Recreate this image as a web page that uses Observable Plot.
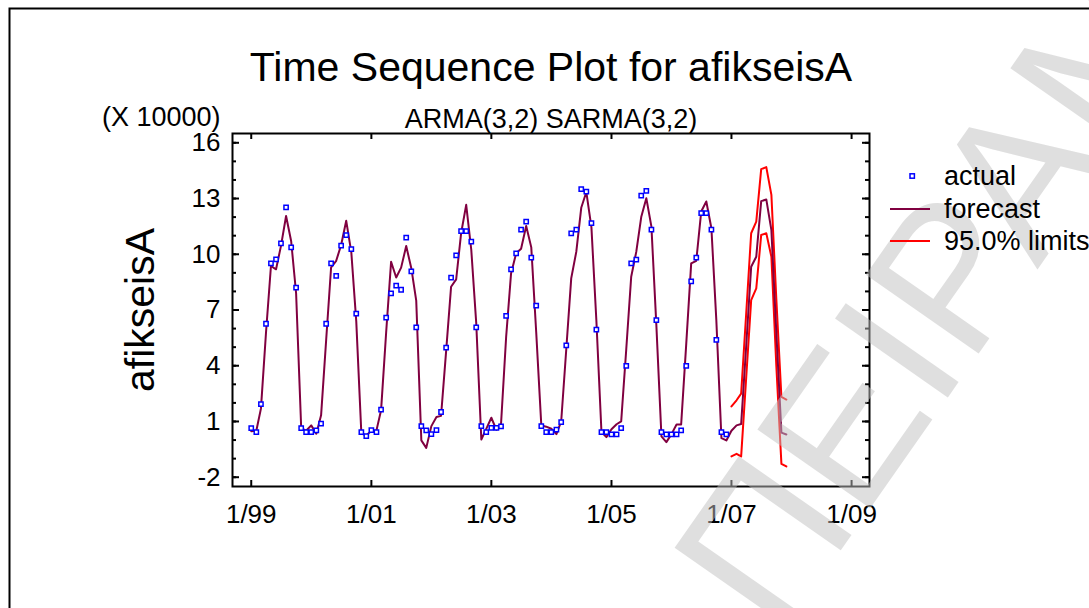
<!DOCTYPE html>
<html>
<head>
<meta charset="utf-8">
<script src="https://cdn.jsdelivr.net/npm/d3@7"></script>
<script src="https://cdn.jsdelivr.net/npm/@observablehq/plot@0.6"></script>
<style>
  html, body { margin: 0; padding: 0; background: #fff; }
  #chart { width: 1089px; height: 608px; overflow: hidden; }
</style>
</head>
<body>
<div id="chart"></div>
<script>
// Monthly arrivals (x 10000), January 1999 – December 2006
const actual1999 = [0.64, 0.43, 1.93, 6.26, 9.51, 9.73, 10.59, 12.52, 10.37, 8.2, 0.64, 0.43];
const actual2000 = [0.43, 0.52, 0.88, 6.26, 9.51, 8.84, 10.46, 11.03, 10.27, 6.81, 0.43, 0.21];
const actual2001 = [0.54, 0.43, 1.64, 6.59, 7.89, 8.31, 8.09, 10.9, 9.08, 6.06, 0.75, 0.52];
const actual2002 = [0.32, 0.53, 1.51, 4.97, 8.74, 9.94, 11.24, 11.24, 10.68, 6.06, 0.75, 0.43];
const actual2003 = [0.66, 0.66, 0.74, 6.69, 9.19, 10.05, 11.33, 11.76, 9.82, 7.23, 0.75, 0.43];
const actual2004 = [0.43, 0.56, 0.97, 5.09, 11.13, 11.33, 13.5, 13.37, 11.67, 5.95, 0.43, 0.43];
const actual2005 = [0.3, 0.3, 0.64, 3.99, 9.51, 9.71, 13.16, 13.41, 11.33, 6.45, 0.43, 0.3];
const actual2006 = [0.3, 0.3, 0.52, 3.99, 8.54, 9.82, 12.21, 12.21, 11.33, 5.39, 0.43, 0.3];

// ARMA(3,2) SARMA(3,2) one-step fits, January 1999 – December 2007
const forecast1999 = [0.48, 0.5, 1.69, 5.8, 9.37, 9.19, 10.45, 12.06, 10.7, 7.9, 0.65, 0.5];
const forecast2000 = [0.79, 0.34, 1.33, 5.4, 9.3, 9.65, 10.5, 11.8, 10.1, 6.4, 0.35, 0.25];
const forecast2001 = [0.5, 0.52, 1.6, 5.8, 9.6, 8.75, 9.28, 10.44, 9.25, 7.5, -0.02, -0.42];
const forecast2002 = [0.75, 1.24, 1.3, 4.8, 8.25, 8.65, 11.13, 12.66, 10.23, 6.3, 0.03, 0.6];
const forecast2003 = [1.2, 0.55, 0.88, 5.55, 8.97, 10.05, 10.3, 11.52, 10.37, 5.8, 0.79, 0.72];
const forecast2004 = [0.61, 0.32, 1.0, 4.9, 8.7, 10.14, 12.5, 13.35, 11.45, 6.45, 0.43, 0.16];
const forecast2005 = [0.58, 0.85, 1.0, 4.9, 8.79, 10.14, 12.0, 13.02, 11.49, 6.2, 0.2, -0.11];
const forecast2006 = [0.32, 0.84, 0.84, 5.19, 9.51, 9.65, 12.3, 12.84, 11.4, 6.45, 0.1, -0.02];
const forecast2007 = [0.5, 0.79, 0.86, 5.1, 9.33, 9.87, 12.86, 12.95, 11.3, 5.8, 0.4, 0.3];

// 95% forecast limits for 2007
const upper2007 = [1.81, 2.14, 2.5, 6.85, 11.13, 11.76, 14.58, 14.69, 13.2, 7.6, 2.32, 2.18];
const lower2007 = [-0.88, -0.74, -0.88, 3.4, 7.53, 8.16, 11.04, 11.13, 9.87, 4.0, -1.28, -1.42];

// Axis ticks
const yTickValues = [-2, 1, 4, 7, 10, 13, 16];
const yMinorValues = [-2, -1, 0, 1, 2, 3, 4, 5, 6, 7, 8, 9, 10, 11, 12, 13, 14, 15, 16];
const xTickYears = [1999, 2001, 2003, 2005, 2007, 2009];

const legendLabels = ["actual", "forecast", "95.0% limits"];

const firstYear = 1999;
const monthDate = (i) => new Date(Date.UTC(firstYear, i, 1));
const toSeries = (values, offset = 0) => values.map((v, i) => ({date: monthDate(offset + i), value: v}));

const actualData = toSeries([].concat(actual1999, actual2000, actual2001, actual2002,
  actual2003, actual2004, actual2005, actual2006));
const forecastData = toSeries([].concat(forecast1999, forecast2000, forecast2001, forecast2002,
  forecast2003, forecast2004, forecast2005, forecast2006, forecast2007));
const upperData = toSeries(upper2007, 96);
const lowerData = toSeries(lower2007, 96);
const xTickDates = xTickYears.map((y) => new Date(Date.UTC(y, 0, 1)));

const W = 1089, H = 608;
const mL = 232, mT = 133, mR = W - 869, mB = H - 486;
const frameW = W - mL - mR, frameH = H - mT - mB;
const FONT = "'Liberation Sans', Arial, Helvetica, sans-serif";
const ACTUAL_COLOR = "#0000ff", FORECAST_COLOR = "#800040", LIMIT_COLOR = "#ff0000";

const plot = Plot.plot({
  width: W,
  height: H,
  marginLeft: mL, marginRight: mR, marginTop: mT, marginBottom: mB,
  style: {fontFamily: FONT, fontSize: "26px", color: "#000", background: "#fff", overflow: "visible"},
  x: {type: "utc", domain: [new Date(Date.UTC(1998, 8, 9)), new Date(Date.UTC(2009, 3, 20))]},
  y: {domain: [-2.5, 16.5]},
  marks: [
    Plot.line(upperData, {x: "date", y: "value", stroke: LIMIT_COLOR, strokeWidth: 2}),
    Plot.line(lowerData, {x: "date", y: "value", stroke: LIMIT_COLOR, strokeWidth: 2}),
    Plot.line(forecastData, {x: "date", y: "value", stroke: FORECAST_COLOR, strokeWidth: 2}),
    Plot.dot(actualData, {x: "date", y: "value", symbol: "square", r: 2.4,
      stroke: ACTUAL_COLOR, strokeWidth: 1.5, fill: "white"}),
    Plot.frame({stroke: "#000", strokeWidth: 2}),
    // inward ticks on all four sides
    Plot.tickY(yMinorValues, {y: (d) => d, stroke: "#000", strokeWidth: 2, insetRight: frameW - 4}),
    Plot.tickY(yTickValues, {y: (d) => d, stroke: "#000", strokeWidth: 2, insetRight: frameW - 7}),
    Plot.tickY(yMinorValues, {y: (d) => d, stroke: "#000", strokeWidth: 2, insetLeft: frameW - 4}),
    Plot.tickY(yTickValues, {y: (d) => d, stroke: "#000", strokeWidth: 2, insetLeft: frameW - 7}),
    Plot.tickX(xTickDates, {x: (d) => d, stroke: "#000", strokeWidth: 2, insetTop: frameH - 6}),
    Plot.tickX(xTickDates, {x: (d) => d, stroke: "#000", strokeWidth: 2, insetBottom: frameH - 6}),
    Plot.axisY({ticks: yTickValues, tickSize: 0, tickPadding: 12, label: null,
      tickFormat: (d) => String(d), fontSize: 26}),
    Plot.axisX({ticks: xTickDates, tickSize: 0, tickPadding: 18, label: null,
      tickFormat: d3.utcFormat("%-m/%y"), fontSize: 26}),
    // titles
    Plot.text(["Time Sequence Plot for afikseisA"], {text: (d) => d, frameAnchor: "top",
      lineAnchor: "bottom", dy: -53, fontSize: 41}),
    Plot.text(["ARMA(3,2) SARMA(3,2)"], {text: (d) => d, frameAnchor: "top",
      lineAnchor: "bottom", dy: -6, fontSize: 27}),
    Plot.text(["(X 10000)"], {text: (d) => d, frameAnchor: "top-left", textAnchor: "end",
      lineAnchor: "bottom", dx: -12, dy: -8, fontSize: 27}),
    Plot.text(["afikseisA"], {text: (d) => d, frameAnchor: "left", rotate: -90,
      textAnchor: "middle", lineAnchor: "middle", dx: -92, fontSize: 41})
  ]
});

const svg = d3.select(plot);

// evaluation-copy watermark (drawn translucent over the chart)
svg.append("text")
  .attr("transform", "translate(778,640) rotate(-55)")
  .attr("text-anchor", "start")
  .attr("font-family", FONT).attr("font-size", 200)
  .attr("fill", "#c0c0c0").attr("fill-opacity", 0.5)
  .text("ΠΕΙΡΑΜΑΤΙΚΗ ΕΚΔΟΣΗ");

// legend
const legend = svg.append("g").attr("font-family", FONT).attr("font-size", 27)
  .attr("text-anchor", "start");
const rows = [176, 209, 241];
legend.append("rect")
  .attr("x", 910).attr("y", rows[0] - 2.2).attr("width", 4.4).attr("height", 4.4)
  .attr("fill", "white").attr("stroke", ACTUAL_COLOR).attr("stroke-width", 1.5);
legend.append("line").attr("x1", 890).attr("x2", 930).attr("y1", rows[1]).attr("y2", rows[1])
  .attr("stroke", FORECAST_COLOR).attr("stroke-width", 2);
legend.append("line").attr("x1", 890).attr("x2", 930).attr("y1", rows[2]).attr("y2", rows[2])
  .attr("stroke", LIMIT_COLOR).attr("stroke-width", 2);
legend.selectAll("text.lbl").data(legendLabels).join("text")
  .attr("class", "lbl")
  .attr("x", 944).attr("y", (d, i) => rows[i]).attr("dy", "0.35em")
  .attr("fill", "#000").text((d) => d);

// outer border
svg.append("rect")
  .attr("x", 9.5).attr("y", 8.5).attr("width", 1200).attr("height", 800)
  .attr("fill", "none").attr("stroke", "#000").attr("stroke-width", 2);

document.getElementById("chart").appendChild(plot);
</script>
</body>
</html>
